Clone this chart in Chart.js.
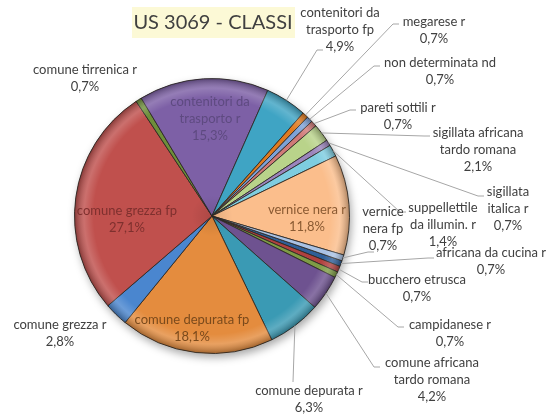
<!DOCTYPE html>
<html>
<head>
<meta charset="utf-8">
<script src="https://cdn.jsdelivr.net/npm/chart.js@4.4.0/dist/chart.umd.min.js"></script>
<style>
  html, body { margin: 0; padding: 0; background: #fff; }
  #wrap { width: 552px; height: 416px; position: relative; }
</style>
</head>
<body>
<div id="wrap"><canvas id="chart" width="552" height="416"></canvas></div>
<script>
// categorie (\n = a capo come nell'originale)
const categories = [
  'africana da cucina r', 'bucchero etrusca', 'campidanese r',
  'comune africana\ntardo romana', 'comune depurata r', 'comune depurata fp',
  'comune grezza r', 'comune grezza fp', 'comune tirrenica r',
  'contenitori da\ntrasporto r', 'contenitori da\ntrasporto fp', 'megarese r',
  'non determinata nd', 'pareti sottili r', 'sigillata africana\ntardo romana',
  'sigillata\nitalica r', 'suppellettile\nda illumin. r', 'vernice nera r',
  'vernice\nnera fp'
]

// percentuali
const percentages = [
  0.7, 0.7, 0.7,
  4.2, 6.3, 18.1,
  2.8, 27.1, 0.7,
  15.3, 4.9, 0.7,
  0.7, 0.7, 2.1,
  0.7, 1.4, 11.8,
  0.7
]

const sliceColors = [
  '#2f5f98', '#b0413f', '#7e9c45',
  '#6e5290', '#3a9ab4', '#e48c3e',
  '#4a86cf', '#c0504d', '#6e8f3a',
  '#7d60a6', '#3fa4c4', '#e07b20',
  '#7da2d8', '#d07a78', '#b9d38a',
  '#9b84bc', '#7ecde0', '#fbbe8c',
  '#a9c2e4'
]

// posizione etichette (centro della prima riga) e fine della linea guida
const labelPos = [
  [491, 253], [417, 280], [450, 325],
  [432, 363], [309, 391], [192, 320],
  [60, 325], [127, 211], [85, 70],
  [210, 102], [340, 13], [434, 22],
  [440, 63], [398, 108], [478, 133],
  [508, 192], [443, 208], [307, 210],
  [383, 212]
]
const leaderEnd = [
  [428, 258], [362, 282], [398, 327],
  [374, 367], [293, 382], null,
  null, null, null,
  null, [317, 50], [393, 24],
  [374, 66], [350, 110], [424, 136],
  [478, 196], [400, 212], null,
  [368, 252]
]
const insideText = {
  5: '#7a4a1c', 7: '#7e302e', 9: '#5e4a80', 17: '#8a5a32'
}

const titleText = 'US 3069 - CLASSI'

const FONT = 'Lato, "Open Sans", sans-serif'

const pieDecor = {
  id: 'pieDecor',
  beforeDatasetsDraw(chart) {
    const arc = chart.getDatasetMeta(0).data[0]
    if (!arc) return
    const { x, y, outerRadius } = arc.getProps(['x', 'y', 'outerRadius'], true)
    const ctx = chart.ctx
    ctx.save()
    ctx.shadowColor = 'rgba(0,0,0,0.35)'
    ctx.shadowBlur = 8
    ctx.shadowOffsetX = 2
    ctx.shadowOffsetY = 4
    ctx.beginPath()
    ctx.arc(x, y, outerRadius, 0, Math.PI * 2)
    ctx.fillStyle = '#888'
    ctx.fill()
    ctx.restore()
  },
  afterDatasetsDraw(chart) {
    const ctx = chart.ctx
    const arcs = chart.getDatasetMeta(0).data
    const { x, y, outerRadius } = arcs[0].getProps(['x', 'y', 'outerRadius'], true)

    // effetto rilievo sul bordo
    ctx.save()
    const g = ctx.createRadialGradient(x, y, 0, x, y, outerRadius)
    g.addColorStop(0, 'rgba(0,0,0,0.10)')
    g.addColorStop(0.15, 'rgba(0,0,0,0)')
    g.addColorStop(0.86, 'rgba(255,255,255,0)')
    g.addColorStop(0.93, 'rgba(255,255,255,0.18)')
    g.addColorStop(1, 'rgba(0,0,0,0.30)')
    ctx.beginPath()
    ctx.arc(x, y, outerRadius, 0, Math.PI * 2)
    ctx.fillStyle = g
    ctx.fill()
    ctx.restore()

    // titolo
    ctx.save()
    ctx.fillStyle = '#fcf9d6'
    ctx.fillRect(132, 7, 163, 31)
    ctx.font = '20px ' + FONT
    ctx.fillStyle = '#404040'
    ctx.textAlign = 'center'
    ctx.textBaseline = 'middle'
    ctx.fillText(titleText, 213, 23)
    ctx.restore()

    // linee guida ed etichette
    ctx.save()
    ctx.font = '13px ' + FONT
    ctx.textAlign = 'center'
    ctx.textBaseline = 'middle'
    arcs.forEach((el, i) => {
      const p = el.getProps(['x', 'y', 'startAngle', 'endAngle', 'outerRadius'], true)
      const end = leaderEnd[i]
      if (end) {
        const mid = (p.startAngle + p.endAngle) / 2
        const sx = p.x + Math.cos(mid) * p.outerRadius
        const sy = p.y + Math.sin(mid) * p.outerRadius
        ctx.strokeStyle = '#a6a6a6'
        ctx.lineWidth = 1
        ctx.beginPath()
        ctx.moveTo(sx, sy)
        ctx.lineTo(end[0], end[1])
        if (i !== 4) ctx.lineTo(end[0] + 6, end[1])
        ctx.stroke()
      }
      const lines = categories[i].split('\n')
      lines.push(percentages[i].toFixed(1).replace('.', ',') + '%')
      ctx.fillStyle = insideText[i] || '#404040'
      lines.forEach((t, k) => {
        ctx.fillText(t, labelPos[i][0], labelPos[i][1] + k * 17)
      })
    })
    ctx.restore()
  }
}

new Chart(document.getElementById('chart'), {
  type: 'pie',
  data: {
    labels: categories,
    datasets: [{
      data: percentages,
      backgroundColor: sliceColors,
      borderColor: 'rgba(45,40,35,0.85)',
      borderWidth: 1
    }]
  },
  options: {
    responsive: false,
    animation: false,
    rotation: 109,
    layout: { padding: { left: 74, right: 202, top: 78, bottom: 62 } },
    plugins: {
      legend: { display: false },
      title: { display: false },
      tooltip: { enabled: false }
    }
  },
  plugins: [pieDecor]
})
</script>
</body>
</html>
